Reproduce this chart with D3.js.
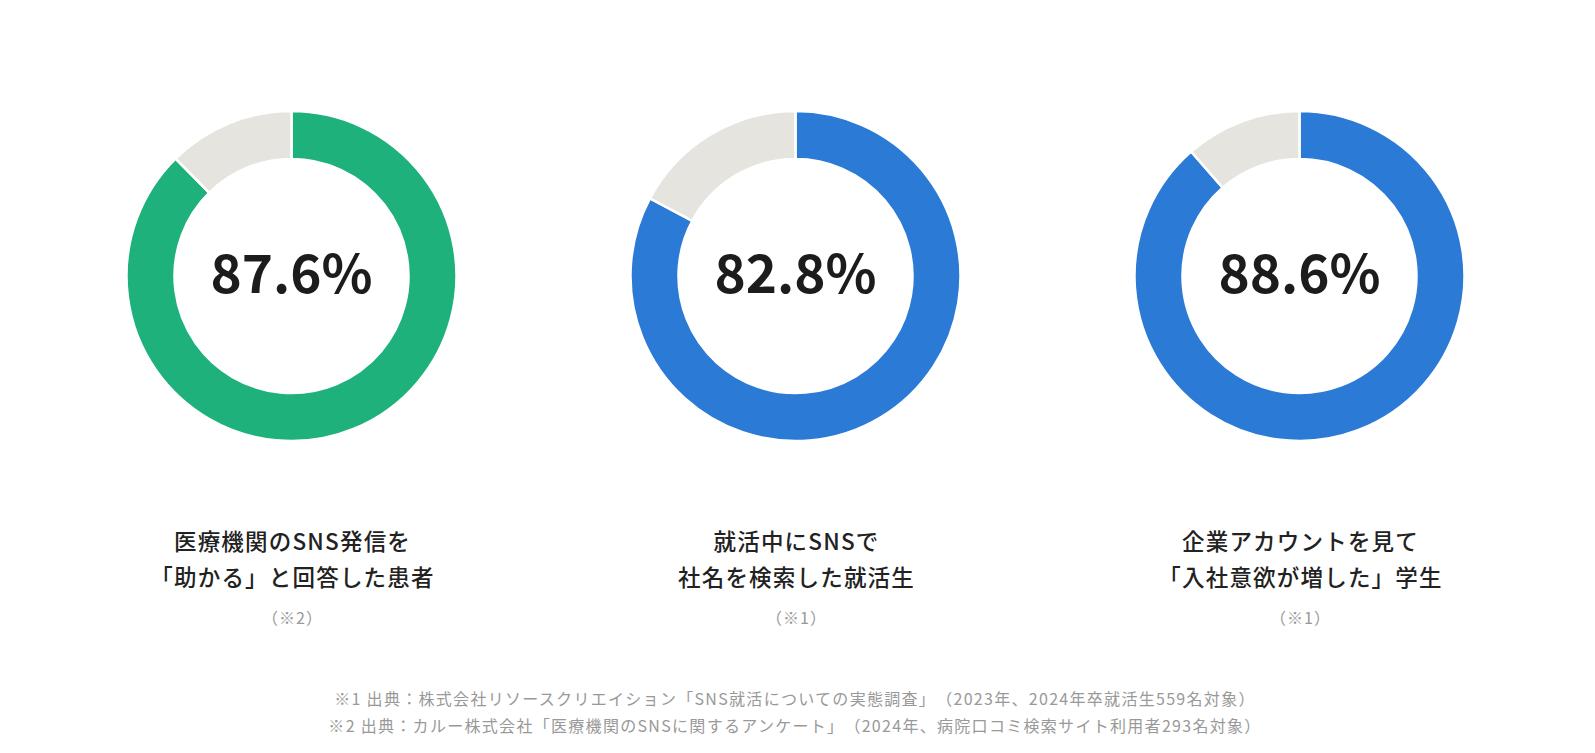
<!DOCTYPE html>
<html>
<head>
<meta charset="utf-8">
<script src="https://cdn.jsdelivr.net/npm/d3@7"></script>
<style>
  html, body { margin: 0; padding: 0; background: #fff; }
  svg { display: block; font-family: "Noto Sans CJK JP", "Noto Sans", sans-serif; text-spacing-trim: space-all; }
</style>
</head>
<body>
<svg id="donuts"></svg>
<script>
const values = [87.6, 82.8, 88.6];
const colors = ["#1eb17b", "#2b7ad6", "#2b7ad6"];
const labelLine1 = ["医療機関のSNS発信を", "就活中にSNSで", "企業アカウントを見て"];
const labelLine2 = ["「助かる」と回答した患者", "社名を検索した就活生", "「入社意欲が増した」学生"];
const notes = ["（※2）", "（※1）", "（※1）"];
const sources = [
    "※1 出典：株式会社リソースクリエイション「SNS就活についての実態調査」（2023年、2024年卒就活生559名対象）",
    "※2 出典：カルー株式会社「医療機関のSNSに関するアンケート」（2024年、病院口コミ検索サイト利用者293名対象）"
];

const width = 1595, height = 753;
const svg = d3.select("#donuts").attr("width", width).attr("height", height);

const xScale = d3.scalePoint().domain(d3.range(values.length)).range([291.5, 1299.5]);
const cy = 276;
const outerR = 165, innerR = 117;

const pie = d3.pie().sort(null).value(d => d);
const arc = d3.arc().innerRadius(innerR).outerRadius(outerR);

values.forEach((v, i) => {
    const g = svg.append("g").attr("transform", `translate(${xScale(i)}, ${cy})`);

    g.selectAll("path")
        .data(pie([v, 100 - v]))
        .enter()
        .append("path")
        .attr("d", arc)
        .attr("fill", (d, j) => j === 0 ? colors[i] : "#e5e4df")
        .attr("stroke", "#fff")
        .attr("stroke-width", 2.5);

    g.append("text")
        .attr("y", 16.5)
        .attr("text-anchor", "middle")
        .attr("font-size", 53)
        .attr("font-weight", 700)
        .attr("fill", "#1c1c1c")
        .text(`${v.toFixed(1)}%`);

    // label under each donut
    const lg = svg.append("g").attr("transform", `translate(${xScale(i) + 1}, 0)`);
    lg.append("text")
        .attr("y", 550)
        .attr("text-anchor", "middle")
        .attr("font-size", 22.5)
        .attr("font-weight", 500)
        .attr("letter-spacing", 1.2)
        .attr("fill", "#222")
        .text(labelLine1[i]);
    lg.append("text")
        .attr("y", 586)
        .attr("text-anchor", "middle")
        .attr("font-size", 22.5)
        .attr("font-weight", 500)
        .attr("letter-spacing", 1.2)
        .attr("fill", "#222")
        .text(labelLine2[i]);
    lg.append("text")
        .attr("y", 624)
        .attr("text-anchor", "middle")
        .attr("font-size", 16)
        .attr("letter-spacing", 1)
        .attr("fill", "#999")
        .text(notes[i]);
});

svg.selectAll("text.source")
    .data(sources)
    .enter()
    .append("text")
    .attr("class", "source")
    .attr("x", 795)
    .attr("y", (d, i) => 705 + i * 27)
    .attr("text-anchor", "middle")
    .attr("font-size", 16)
    .attr("letter-spacing", 1.3)
    .attr("fill", "#999")
    .text(d => d);
</script>
</body>
</html>
